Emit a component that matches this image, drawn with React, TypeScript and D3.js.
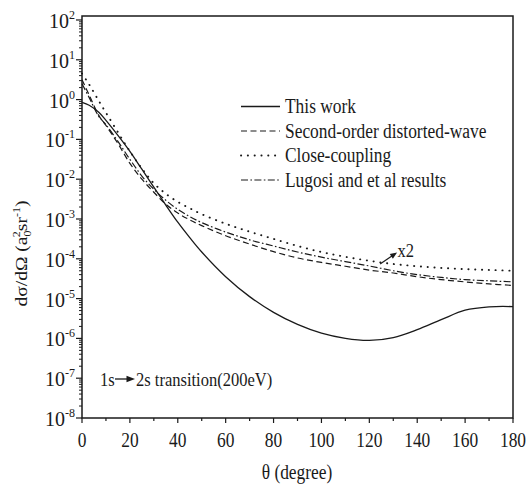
import React from "react";
import * as d3 from "d3";

const theta = [0, 3, 7, 10, 15, 20, 25, 30, 35, 40, 45, 50, 60, 70, 80, 90, 100, 110, 120, 130, 140, 150, 160, 170, 180];
const thisWork = [0.85, 0.72, 0.48, 0.3, 0.126, 5.0e-2, 1.78e-2, 6.3e-3, 2.24e-3, 8.3e-4, 3.4e-4, 1.48e-4, 3.55e-5, 1.12e-5, 4.5e-6, 2.24e-6, 1.35e-6, 1.0e-6, 8.9e-7, 1.05e-6, 1.66e-6, 2.95e-6, 5.1e-6, 6.2e-6, 6.3e-6];
const secondOrder = [3.16, 1.3, 0.4, 0.224, 7.9e-2, 2.5e-2, 1.0e-2, 4.7e-3, 2.34e-3, 1.41e-3, 9.5e-4, 6.8e-4, 3.8e-4, 2.34e-4, 1.51e-4, 1.05e-4, 8.1e-5, 6.5e-5, 5.2e-5, 4.4e-5, 3.55e-5, 3.0e-5, 2.63e-5, 2.34e-5, 2.14e-5];
const closeCoupling = [4.5, 2.4, 0.93, 0.47, 0.151, 5.0e-2, 1.86e-2, 7.9e-3, 4.3e-3, 2.7e-3, 1.86e-3, 1.32e-3, 7.6e-4, 4.8e-4, 3.16e-4, 2.1e-4, 1.48e-4, 1.12e-4, 8.9e-5, 7.4e-5, 6.5e-5, 5.9e-5, 5.5e-5, 5.25e-5, 5.0e-5];
const lugosi = [2.51, 1.12, 0.38, 0.234, 8.9e-2, 3.16e-2, 1.2e-2, 5.6e-3, 2.95e-3, 1.74e-3, 1.15e-3, 8.1e-4, 4.7e-4, 3.0e-4, 2.1e-4, 1.48e-4, 1.1e-4, 8.5e-5, 6.6e-5, 5.0e-5, 4.0e-5, 3.4e-5, 3.0e-5, 2.8e-5, 2.63e-5];

const seriesNames = ["This work", "Second-order distorted-wave", "Close-coupling", "Lugosi and et al results"];
const xTicks = [0, 20, 40, 60, 80, 100, 120, 140, 160, 180];
const yExponents = [2, 1, 0, -1, -2, -3, -4, -5, -6, -7, -8];

const W = 528, H = 484;
const L = 82, R = 513, T = 16, B = 418;
const FONT = "'Liberation Serif', 'Times New Roman', serif";
const INK = "#1a1a1a";
const SX = 0.87;

export default function App() {
  const x = d3.scaleLinear().domain([0, 180]).range([L, R]);
  const y = d3.scaleLog().domain([1e-8, Math.pow(10, 2.1)]).range([B, T]);

  const line = d3.line<[number, number]>()
    .x(d => x(d[0]))
    .y(d => y(d[1]))
    .curve(d3.curveCatmullRom.alpha(0.5));

  const styles = [
    { data: thisWork, dash: undefined as string | undefined, width: 1.3, cap: "butt" },
    { data: secondOrder, dash: "6,3.5", width: 1.2, cap: "butt" },
    { data: closeCoupling, dash: "0.2,6.6", width: 1.9, cap: "round" },
    { data: lugosi, dash: "7,2.4,1.6,2.4", width: 1.2, cap: "butt" },
  ];

  const minorY: number[] = [];
  for (let e = -8; e < 2; e++) {
    for (let m = 2; m <= 9; m++) minorY.push(m * Math.pow(10, e));
  }
  const minorX = d3.range(10, 180, 20);

  const legendY = [106.5, 131, 155.5, 180];

  // annotation arrow (x2) in data coordinates
  const arrowTail: [number, number] = [124.5, Math.pow(10, -4.13)];
  const arrowHead: [number, number] = [131.6, Math.pow(10, -3.84)];
  const ax1 = x(arrowTail[0]), ay1 = y(arrowTail[1]);
  const ax2 = x(arrowHead[0]), ay2 = y(arrowHead[1]);
  const ang = Math.atan2(ay2 - ay1, ax2 - ax1);
  const hl = 7, hw = 2.8;
  const hp = [
    [ax2, ay2],
    [ax2 - hl * Math.cos(ang) + hw * Math.sin(ang), ay2 - hl * Math.sin(ang) - hw * Math.cos(ang)],
    [ax2 - hl * Math.cos(ang) - hw * Math.sin(ang), ay2 - hl * Math.sin(ang) + hw * Math.cos(ang)],
  ];

  return (
    <svg width={W} height={H} style={{ position: "absolute", left: 0, top: 0, background: "#fff" }} fontFamily={FONT}>
      <rect x={0} y={0} width={W} height={H} fill="#fff" />
      {/* curves */}
      <g fill="none" stroke={INK}>
        {styles.map((s, i) => (
          <path key={i} d={line(theta.map((t, j) => [t, s.data[j]] as [number, number])) || ""}
            strokeWidth={s.width} strokeDasharray={s.dash} strokeLinecap={s.cap as any} />
        ))}
      </g>
      {/* frame */}
      <rect x={L} y={T} width={R - L} height={B - T} fill="none" stroke={INK} strokeWidth={1.5} />
      {/* ticks */}
      <g stroke={INK} strokeWidth={1.2}>
        {yExponents.map(e => (
          <line key={"M" + e} x1={L - 6} x2={L} y1={y(Math.pow(10, e))} y2={y(Math.pow(10, e))} />
        ))}
        {minorY.map((v, i) => (
          <line key={"m" + i} x1={L - 3} x2={L} y1={y(v)} y2={y(v)} strokeWidth={1} />
        ))}
        {xTicks.map(t => (
          <line key={"X" + t} x1={x(t)} x2={x(t)} y1={B} y2={B + 5} />
        ))}
        {minorX.map(t => (
          <line key={"x" + t} x1={x(t)} x2={x(t)} y1={B} y2={B + 3} />
        ))}
      </g>
      {/* y tick labels */}
      <g fill={INK}>
        {yExponents.map(e => (
          <text key={"yl" + e} x={75} y={y(Math.pow(10, e)) + 8} textAnchor="end" fontSize={20}>
            10<tspan dy={-9} fontSize={12}>{String(e)}</tspan>
          </text>
        ))}
      </g>
      {/* x tick labels */}
      <g fill={INK}>
        {xTicks.map(t => (
          <g key={"xl" + t} transform={`translate(${x(t)},447) scale(${SX},1)`}>
            <text x={0} y={0} textAnchor="middle" fontSize={20}>{t}</text>
          </g>
        ))}
      </g>
      {/* axis titles */}
      <g transform={`translate(297,479) scale(${SX},1)`} fill={INK}>
        <text textAnchor="middle" fontSize={20}>θ (degree)</text>
      </g>
      <g transform={`translate(27,253.5) scale(${SX},1) rotate(-90)`} fill={INK}>
        <text textAnchor="middle" fontSize={19.5}>
          dσ/dΩ (a<tspan dy={5} fontSize={12}>0</tspan>
          <tspan dx={-6.6} dy={-13} fontSize={12}>2</tspan>
          <tspan dy={8}>sr</tspan>
          <tspan dy={-8} fontSize={12}>-1</tspan>
          <tspan dy={8}>)</tspan>
        </text>
      </g>
      {/* legend */}
      <g>
        {seriesNames.map((n, i) => (
          <g key={n}>
            <line x1={241} x2={280} y1={legendY[i]} y2={legendY[i]} stroke={INK}
              strokeWidth={styles[i].width} strokeDasharray={styles[i].dash}
              strokeLinecap={styles[i].cap as any} />
            <g transform={`translate(285,${legendY[i] + 6.8}) scale(${SX},1)`}>
              <text fontSize={20} fill={INK}>{n}</text>
            </g>
          </g>
        ))}
      </g>
      {/* x2 annotation */}
      <line x1={ax1} y1={ay1} x2={ax2 - 5 * Math.cos(ang)} y2={ay2 - 5 * Math.sin(ang)} stroke={INK} strokeWidth={1.2} />
      <polygon points={hp.map(p => p.join(",")).join(" ")} fill={INK} />
      <g transform={`translate(397.5,257) scale(${SX},1)`}>
        <text fontSize={19} fill={INK}>x2</text>
      </g>
      {/* transition label */}
      <g transform={`translate(100,385.5) scale(${SX},1)`} fill={INK}>
        <text fontSize={19}>1s</text>
      </g>
      <line x1={115} x2={129} y1={379} y2={379} stroke={INK} strokeWidth={1.3} />
      <polygon points="126.5,375.8 135,379 126.5,382.2" fill={INK} />
      <g transform={`translate(136,385.5) scale(${SX},1)`} fill={INK}>
        <text fontSize={19}>2s transition(200eV)</text>
      </g>
    </svg>
  );
}
